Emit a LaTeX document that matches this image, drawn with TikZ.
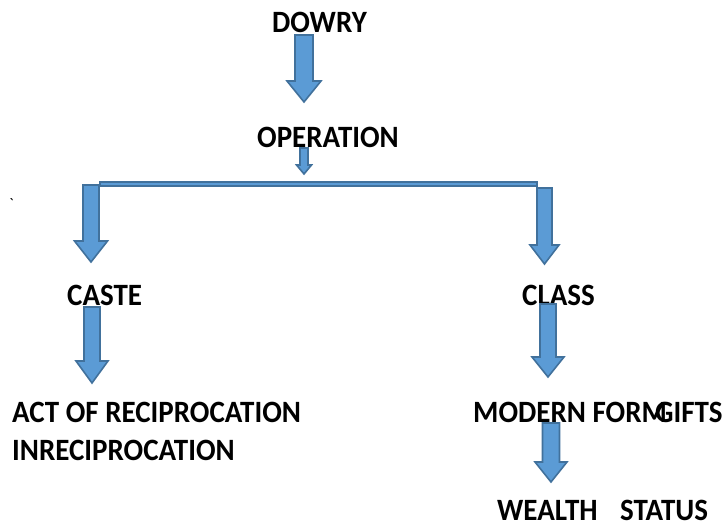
\documentclass[tikz,border=0pt]{standalone}
\usepackage{fontspec}
\setmainfont{Carlito}
\definecolor{arrfill}{HTML}{5B9BD5}
\definecolor{arrline}{HTML}{41719C}
\newcommand{\blkarrow}[6]{%
  \draw[blockarrow] ({#1-#4},#2) -- ({#1+#4},#2) -- ({#1+#4},#6) -- ({#1+#5},#6) -- (#1,#3) -- ({#1-#5},#6) -- ({#1-#4},#6) -- cycle;}
\begin{document}
\begin{tikzpicture}[x=1pt,y=-1pt,
  blockarrow/.style={fill=arrfill,draw=arrline,line width=1.6pt,line join=miter},
  lbl/.style={inner sep=0pt,anchor=base west,font=\fontsize{29}{34}\selectfont\bfseries}]
\useasboundingbox[fill=white] (0,0) rectangle (722,525);
% texts
\node[lbl] (dowry) at (272,32) {\scalebox{1}[1.07]{DOWRY}};
\node[lbl] (oper) at (257,147) {\scalebox{1}[1.07]{OPERATION}};
\node[lbl] (caste) at (67,305) {\scalebox{1}[1.07]{CASTE}};
\node[lbl] (class) at (522,305) {\scalebox{1}[1.07]{CLASS}};
\node[lbl] (act) at (12,422) {\scalebox{1}[1.07]{ACT OF RECIPROCATION}};
\node[lbl] (inrec) at (12,460) {\scalebox{1}[1.07]{INRECIPROCATION}};
\node[lbl] (modern) at (473,422) {\scalebox{1}[1.07]{MODERN FORM}};
\node[lbl] (gifts) at (655,422) {\scalebox{1}[1.07]{GIFTS}};
\node[lbl] (wealth) at (497,520) {\scalebox{1}[1.07]{WEALTH}};
\node[lbl] (status) at (620,520) {\scalebox{1}[1.07]{STATUS}};
\node[inner sep=0pt,anchor=base west,font=\fontsize{16}{18}\selectfont] (tick) at (9,209) {\textasciigrave};
% arrows
\blkarrow{304}{35}{102}{9}{17}{81}
\blkarrow{304}{148}{174}{4}{7.5}{165}
\draw[blockarrow,line width=1.2pt] (100,182) rectangle (537,186);
\blkarrow{91}{185}{262}{8}{16.5}{241}
\blkarrow{544.5}{188}{264}{7.5}{14.5}{245}
\blkarrow{92}{307}{383}{8}{16}{361}
\blkarrow{548}{304}{377}{8}{16}{357}
\blkarrow{551}{423}{482}{8.5}{16}{462}
\end{tikzpicture}
\end{document}
